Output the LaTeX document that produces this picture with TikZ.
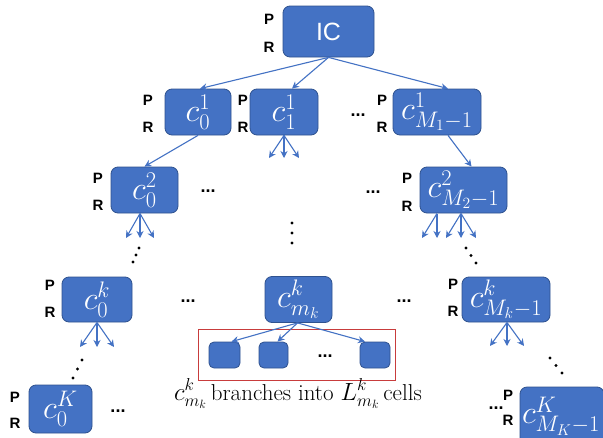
\documentclass[tikz,border=0pt]{standalone}
\usepackage{fontspec}
\newfontfamily\lsans{Liberation Sans}
\usetikzlibrary{arrows.meta,calc}
\definecolor{boxfill}{RGB}{68,114,196}
\definecolor{boxline}{RGB}{47,82,143}
\definecolor{redline}{RGB}{200,60,60}
\newcommand\cellm[1]{\scalebox{1.3}{$#1$}}
\tikzset{
  cell/.style={draw=boxline, fill=boxfill, line width=0.8pt, rounded corners=7pt,
    text=white, inner sep=0pt, font=\fontsize{23}{23}\selectfont},
  leaf/.style={draw=boxline, fill=boxfill, line width=0.8pt, rounded corners=5pt, inner sep=0pt},
  lab/.style={font=\lsans\bfseries\fontsize{15}{15}\selectfont, inner sep=0pt},
  hdots/.style={font=\lsans\bfseries\fontsize{18}{18}\selectfont, inner sep=0pt},
  arr/.style={draw=boxfill, line width=1.1pt, -{Stealth[length=7pt,width=7pt]}},
  dotc/.style={fill=black, draw=none}
}
\begin{document}
\begin{tikzpicture}[x=1pt,y=-1pt]
\useasboundingbox (0,0) rectangle (603,437);
\clip (0,0) rectangle (603,437);
\fill[white] (0,0) rectangle (603,437);
% boxes
\node[cell, minimum width=91pt, minimum height=51pt, font=\lsans\fontsize{25}{25}\selectfont] (IC) at (328.5,31.5) {IC};
\node[cell, minimum width=66pt, minimum height=46pt] (c01) at (198,112) {\cellm{c_0^1}};
\node[cell, minimum width=68pt, minimum height=46pt] (c11) at (284,112) {\cellm{c_1^1}};
\node[cell, minimum width=88pt, minimum height=46pt] (cM1) at (437,112) {\cellm{c_{M_1-1}^1}};
\node[cell, minimum width=67pt, minimum height=46pt] (c02) at (144.5,190) {\cellm{c_0^2}};
\node[cell, minimum width=87pt, minimum height=46pt] (cM2) at (463.5,190) {\cellm{c_{M_2-1}^2}};
\node[cell, minimum width=70pt, minimum height=45pt] (c0k) at (97,299.5) {\cellm{c_0^k}};
\node[cell, minimum width=67pt, minimum height=46pt] (cmk) at (298.5,299.5) {\cellm{c_{m_k}^k}};
\node[cell, minimum width=88pt, minimum height=45pt] (cMk) at (506,299.5) {\cellm{c_{M_k-1}^k}};
\node[cell, minimum width=63pt, minimum height=48pt] (c0K) at (60.5,409) {\cellm{c_0^K}};
\node[cell, minimum width=84pt, minimum height=58pt, text width=80pt, align=left] (cMK) at (562,416) {\cellm{c_{M_K-1}^K}};
% leaf cells and red frame
\node[draw=redline, line width=0.9pt, minimum width=197pt, minimum height=51pt, inner sep=0pt] (frame) at (296.5,354.5) {};
\node[leaf, minimum width=31pt, minimum height=26pt] (L1) at (224.5,355) {};
\node[leaf, minimum width=29pt, minimum height=26pt] (L2) at (273.5,355) {};
\node[leaf, minimum width=30pt, minimum height=26pt] (L3) at (375,355) {};
% P R labels
\foreach \n/\x/\yp/\yr in {IC/269/19/47, c01/148/100/127, c11/243/100/127, cM1/382/100/127,
  c02/98/178/205, cM2/407/178/206, c0k/50/285/312, cMk/453/284/311, c0K/15/397/423, cMK/508/395/420}{
  \node[lab] (P\n) at (\x,\yp) {P};
  \node[lab] (R\n) at (\x,\yr) {R};
}
% horizontal dots
\node[hdots] (d1) at (358,115) {...};
\node[hdots] (d2) at (208,191) {...};
\node[hdots] (d3) at (373,192) {...};
\node[hdots] (d4) at (188,301) {...};
\node[hdots] (d5) at (404,301) {...};
\node[hdots] (d6) at (325,356) {...};
\node[hdots] (d7) at (118,411) {...};
\node[hdots] (d8) at (496,408) {...};
% vertical / diagonal dots
\foreach \x/\y in {292/223, 292/233, 292/243,
  139/248, 136/255, 133/262,
  466/248, 471/255.5, 476/263,
  82/360, 77.5/369, 73/378,
  550/358, 556/365.5, 562/373}{
  \fill[dotc] (\x,\y) circle (1.7pt);
}
% tree arrows
\draw[arr] (IC.south) -- ($(c01.north)+(2,0)$);
\draw[arr] (IC.south) -- ($(c11.north)+(8,0)$);
\draw[arr] (IC.south) -- ($(cM1.north)+(11,0)$);
\draw[arr] (c01.south) -- (c02.north);
\draw[arr] ($(cM1.south)+(11,0)$) -- ($(cM2.north)+(8,0)$);
\draw[arr] ($(cmk.south)+(-1,0)$) -- ($(L1.north)+(7,0)$);
\draw[arr] ($(cmk.south)+(-1,0)$) -- ($(L2.north)+(4,0)$);
\draw[arr] ($(cmk.south)+(-1,0)$) -- ($(L3.north)+(-10,0)$);
% fans with free ends
\coordinate (f1a) at (269,158); \coordinate (f1b) at (284,158); \coordinate (f1c) at (299,158);
\foreach \e in {f1a,f1b,f1c} \draw[arr] (c11.south) -- (\e);
\coordinate (f2s) at (140,213.5);
\coordinate (f2a) at (126,238); \coordinate (f2b) at (140,238); \coordinate (f2c) at (154,238);
\foreach \e in {f2a,f2b,f2c} \draw[arr] (f2s) -- (\e);
\coordinate (f3s) at (437,213.5);
\coordinate (f3a) at (422,238); \coordinate (f3b) at (437,238);
\foreach \e in {f3a,f3b} \draw[arr] (f3s) -- (\e);
\coordinate (f4s) at (461,213.5);
\coordinate (f4a) at (446,238); \coordinate (f4b) at (461,238); \coordinate (f4c) at (476,238);
\foreach \e in {f4a,f4b,f4c} \draw[arr] (f4s) -- (\e);
\coordinate (f5s) at (97,322.5);
\coordinate (f5a) at (80,347); \coordinate (f5b) at (97,347); \coordinate (f5c) at (114,347);
\foreach \e in {f5a,f5b,f5c} \draw[arr] (f5s) -- (\e);
\coordinate (f6s) at (507,322.5);
\coordinate (f6a) at (490,346); \coordinate (f6b) at (507,346); \coordinate (f6c) at (524,346);
\foreach \e in {f6a,f6b,f6c} \draw[arr] (f6s) -- (\e);
% caption
\node[font=\fontsize{23}{23}\selectfont, inner sep=0pt, anchor=base] (cap) at (298,400)
  {$c^k_{m_k}$\,branches into $L^k_{m_k}$\,cells};
\end{tikzpicture}
\end{document}
